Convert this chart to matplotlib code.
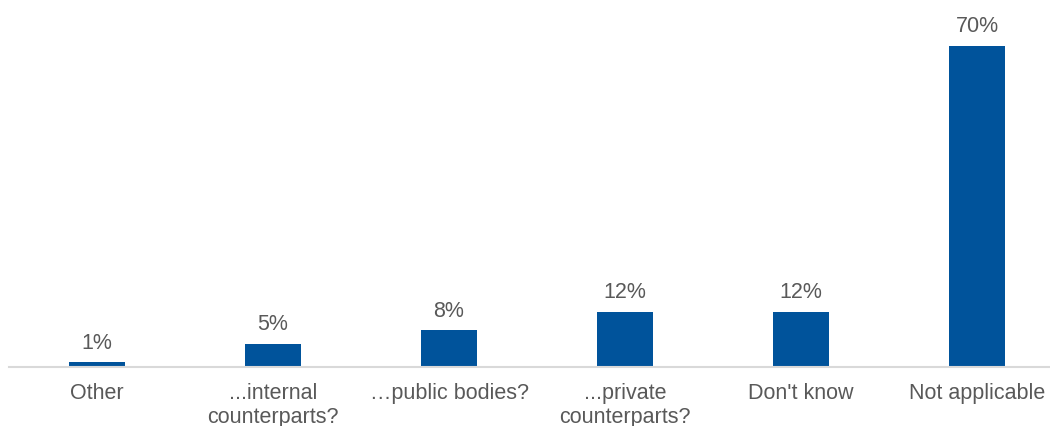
import matplotlib
matplotlib.use('Agg')
import matplotlib.pyplot as plt

categories = ['Other', '...internal\ncounterparts?', '\u2026public bodies?',
              '...private\ncounterparts?', "Don't know", 'Not applicable']
values = [1, 5, 8, 12, 12, 70]

bar_color = '#00539B'
text_color = '#595959'

plt.rcParams['font.family'] = ['Liberation Sans', 'DejaVu Sans']

fig = plt.figure(figsize=(10.5, 4.27), dpi=100)
ax = fig.add_axes([9 / 1050, 59 / 427, 1041 / 1050, 368 / 427])

x = range(len(values))
bars = ax.bar(x, values, width=0.32, color=bar_color, zorder=2)

for bar, v in zip(bars, values):
    ax.annotate(f'{v}%', (bar.get_x() + bar.get_width() / 2, v),
                xytext=(0, 7), textcoords='offset points',
                ha='center', va='bottom', fontsize=15.5, color=text_color)

ax.set_xlim(-0.5, 1041 / 176 - 0.5)
ax.set_ylim(0, 70 * 368 / 321)
ax.set_xticks(list(x))
ax.set_xticklabels(categories, fontsize=15.5, color=text_color, linespacing=1.2)
ax.tick_params(axis='x', length=0, pad=11)
ax.set_yticks([])

for side in ['top', 'right', 'left']:
    ax.spines[side].set_visible(False)
ax.spines['bottom'].set_color('#D9D9D9')
ax.spines['bottom'].set_linewidth(1.5)

fig.savefig('out.png', dpi=100)
